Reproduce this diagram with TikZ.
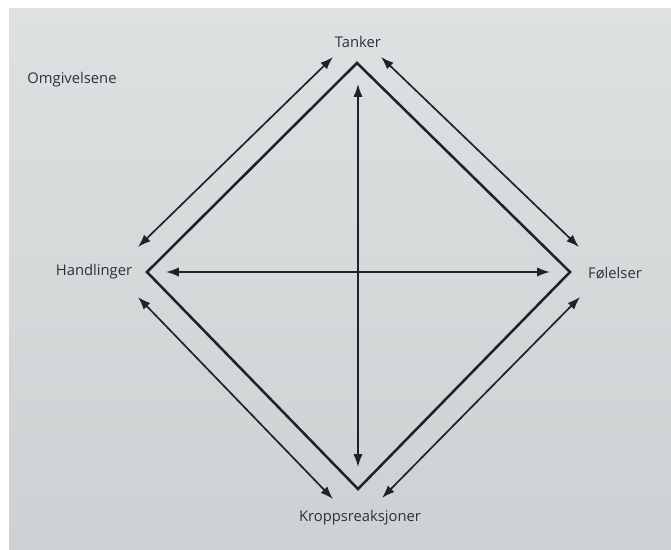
\documentclass[tikz,border=0pt]{standalone}
\usepackage{fontspec}
\setmainfont{Open Sans}
\usepackage{xcolor}
\usepackage{tikz}
\usetikzlibrary{arrows.meta}
\definecolor{pageInk}{HTML}{1E232B}
\definecolor{pageText}{HTML}{2C323A}
\definecolor{pageTop}{HTML}{DDE1E1}
\definecolor{pageBottom}{HTML}{CCD1D3}
\tikzset{
    model/label/.style={
        font=\fontsize{10.5}{12}\selectfont, text=pageText, inner sep=1pt
    },
    model/square/.style={
        draw=pageInk, line width=1.8pt, line join=miter
    },
    model/link/.style={
        draw=pageInk, line width=1.2pt,
        {Latex[length=3.2mm,width=2.3mm]}-{Latex[length=3.2mm,width=2.3mm]}
    }
}
\begin{document}
\begin{tikzpicture}[x=0.025cm,y=-0.025cm]
    \useasboundingbox (0,0) rectangle (671,549);
    \fill[white] (0,0) rectangle (671,549);
    \shade[top color=pageTop, bottom color=pageBottom]
        (9,8) rectangle (671,549);

    % labels
    \node[model/label] (omgivelsene) at (72,80) {Omgivelsene};
    \node[model/label] (tanker) at (358,42) {Tanker};
    \node[model/label] (handlinger) at (94,272) {Handlinger};
    \node[model/label] (folelser) at (615,273) {Følelser};
    \node[model/label] (kropp) at (360,518) {Kroppsreaksjoner};

    % corners of the square
    \coordinate (top) at (357,63);
    \coordinate (left) at (147,272);
    \coordinate (right) at (570,272);
    \coordinate (bottom) at (358,489);
    \draw[model/square] (top) -- (right) -- (bottom) -- (left) -- cycle;

    % ends of the outer arrows
    \coordinate (tl-a) at (138,247);
    \coordinate (tl-b) at (333,57);
    \coordinate (tr-a) at (381,57);
    \coordinate (tr-b) at (579,247);
    \coordinate (br-a) at (580,297);
    \coordinate (br-b) at (382,498);
    \coordinate (bl-a) at (138,297);
    \coordinate (bl-b) at (333,499);
    \draw[model/link] (tl-a) -- (tl-b);
    \draw[model/link] (tr-a) -- (tr-b);
    \draw[model/link] (br-a) -- (br-b);
    \draw[model/link] (bl-a) -- (bl-b);

    % cross inside
    \coordinate (up) at (358,84);
    \coordinate (down) at (358,467);
    \coordinate (west) at (166,272);
    \coordinate (east) at (550,272);
    \draw[model/link] (up) -- (down);
    \draw[model/link] (west) -- (east);
\end{tikzpicture}
\end{document}
